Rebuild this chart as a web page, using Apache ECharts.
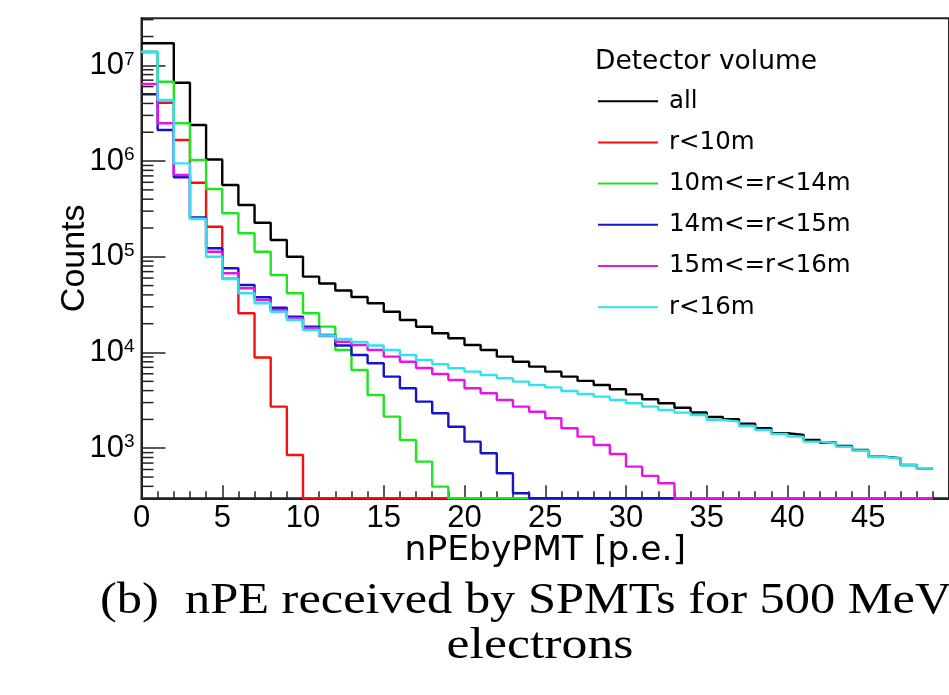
<!DOCTYPE html>
<html>
<head>
<meta charset="utf-8">
<script src="https://cdn.jsdelivr.net/npm/echarts@6/dist/echarts.min.js"></script>
<style>
  html, body { margin: 0; padding: 0; background: #fff; }
  #chart { width: 949px; height: 695px; }
</style>
</head>
<body>
<div id="chart"></div>
<script>
// Lower edges of the 1 p.e. wide bins
const binLow = [0, 1, 2, 3, 4, 5, 6, 7, 8, 9, 10, 11, 12, 13, 14, 15, 16, 17, 18, 19,
  20, 21, 22, 23, 24, 25, 26, 27, 28, 29, 30, 31, 32, 33, 34, 35, 36, 37, 38, 39,
  40, 41, 42, 43, 44, 45, 46, 47, 48];

// Bin contents (counts) per detector volume
const countsAll = [1.70e7, 1.70e7, 6.58e6, 2.38e6, 1.04e6, 5.62e5, 3.47e5, 2.27e5, 1.50e5, 1.00e5,
  6.20e4, 5.26e4, 4.45e4, 3.80e4, 3.27e4, 2.67e4, 2.19e4, 1.86e4, 1.59e4, 1.41e4,
  12000, 10630, 9050, 8020, 7120, 6310, 5600, 5050, 4580, 4130,
  3650, 3250, 2950, 2650, 2365, 2120, 2010, 1806, 1618, 1434,
  1377, 1221, 1150, 1057, 960, 817, 786, 669, 618];
const countsR10 = [1.38e7, 4.07e6, 1.659e6, 5.94e5, 2.06e5, 5.9e4, 2.57e4, 8880, 2720, 851,
  0, 0, 0, 0, 0, 0, 0, 0, 0, 0, 0, 0, 0, 0, 0, 0, 0, 0, 0, 0,
  0, 0, 0, 0, 0, 0, 0, 0, 0, 0, 0, 0, 0, 0, 0, 0, 0, 0, 0];
const countsR10to14 = [1.38e7, 6.74e6, 2.48e6, 1.026e6, 5.11e5, 2.85e5, 1.76e5, 1.13e5, 6.45e4, 4.16e4,
  2.57e4, 1.862e4, 1.063e4, 6570, 3600, 2140, 1221, 725, 397, 0,
  0, 0, 0, 0, 0, 0, 0, 0, 0, 0, 0, 0, 0, 0, 0, 0, 0, 0, 0, 0,
  0, 0, 0, 0, 0, 0, 0, 0, 0];
const countsR14to15 = [4.98e6, 2.11e6, 6.77e5, 2.57e5, 1.227e5, 7.58e4, 5.08e4, 3.78e4, 2.94e4, 2.37e4,
  1.862e4, 1.525e4, 1.185e4, 9430, 7720, 5600, 4230, 3070, 2320, 1680,
  1172, 887, 548, 339, 0, 0, 0, 0, 0, 0, 0, 0, 0, 0, 0, 0, 0, 0, 0, 0,
  0, 0, 0, 0, 0, 0, 0, 0, 0];
const countsR15to16 = [6.38e6, 2.48e6, 7.15e5, 2.51e5, 1.13e5, 6.72e4, 4.69e4, 3.54e4, 2.78e4, 2.28e4,
  1.805e4, 1.489e4, 1.298e4, 1.199e4, 1.063e4, 9050, 8020, 6900, 5970, 5170,
  4230, 3750, 3190, 2720, 2410, 2060, 1618, 1322, 1083, 872,
  642, 514, 431, 0, 0, 0, 0, 0, 0, 0, 0, 0, 0, 0, 0, 0, 0, 0, 0];
const countsR16 = [1.387e7, 4.34e6, 9.47e5, 2.48e5, 1.00e5, 5.86e4, 4.16e4, 3.27e4, 2.67e4, 2.19e4,
  1.72e4, 1.507e4, 1.385e4, 1.289e4, 1.185e4, 1.063e4, 9430, 8360, 7540, 6850,
  6310, 5830, 5380, 4960, 4580, 4320, 3970, 3690, 3460, 3190,
  2950, 2720, 2510, 2353, 2227, 1975, 1896, 1710, 1553, 1410,
  1322, 1172, 1136, 1039, 948, 811, 783, 665, 618];

const seriesNames = ['all', 'r<10m', '10m<=r<14m', '14m<=r<15m', '15m<=r<16m', 'r<16m'];
const seriesCounts = [countsAll, countsR10, countsR10to14, countsR14to15, countsR15to16, countsR16];
const seriesColors = ['#000000', '#f41010', '#1ee61e', '#1414c8', '#e614e6', '#30e2ec'];

// Axis ranges and tick labels
const X_MIN = 0, X_MAX = 50, X_STEP = 5;
const Y_MIN = 300, Y_MAX = 3.1e7;
const minorMultipliers = [2, 3, 4, 5, 6, 7, 8, 9];
const decades = [1e2, 1e3, 1e4, 1e5, 1e6, 1e7];

// Histogram outline: one point per bin edge, empty bins sit on the frame floor
function histPoints(counts) {
  const pts = binLow.map((x, i) => [x, Math.max(counts[i], Y_MIN)]);
  const last = pts[pts.length - 1];
  pts.push([last[0] + 1, last[1]]);
  return pts;
}

const minorTickValues = [];
decades.forEach(d => minorMultipliers.forEach(m => {
  const v = d * m;
  if (v > Y_MIN && v < Y_MAX) minorTickValues.push([X_MIN, v]);
}));

const chart = echarts.init(document.getElementById('chart'), null, { renderer: 'canvas' });

const sans = "'Liberation Sans', Arial, sans-serif";
const wide = "'DejaVu Sans', sans-serif";
const serifFont = "45px 'Liberation Serif', 'Times New Roman', serif";
const axisColor = '#222';

const lineSeries = seriesNames.map((name, k) => ({
  name: name,
  type: 'line',
  step: 'end',
  data: histPoints(seriesCounts[k]),
  showSymbol: false,
  symbol: 'none',
  clip: false,
  animation: false,
  lineStyle: { color: seriesColors[k], width: 2.4 },
  itemStyle: { color: seriesColors[k] },
  z: 3 + k
}));

const minorTickSeries = {
  name: 'yMinorTicks',
  type: 'custom',
  silent: true,
  clip: false,
  animation: false,
  z: 20,
  data: minorTickValues,
  renderItem: function (params, api) {
    const p = api.coord([api.value(0), api.value(1)]);
    return {
      type: 'line',
      shape: { x1: p[0], y1: p[1], x2: p[0] + 12, y2: p[1] },
      style: { stroke: axisColor, lineWidth: 1.5 }
    };
  }
};

chart.setOption({
  animation: false,
  backgroundColor: '#ffffff',
  grid: {
    left: 141.5, top: 18.3, bottom: 196.7, right: -17.5,
    show: true, borderColor: axisColor, borderWidth: 2, containLabel: false
  },
  xAxis: {
    type: 'value', min: X_MIN, max: X_MAX, interval: X_STEP,
    name: 'nPEbyPMT [p.e.]', nameLocation: 'middle', nameGap: 36, nameMoveOverlap: false,
    nameTextStyle: { fontFamily: wide, fontSize: 34.5, lineHeight: 34, color: '#000' },
    axisLine: { show: true, lineStyle: { color: axisColor, width: 2 } },
    axisTick: { show: true, inside: true, length: 13, lineStyle: { color: axisColor, width: 1.5 } },
    minorTick: { show: true, splitNumber: 5, length: 7, lineStyle: { color: axisColor, width: 1.5 } },
    splitLine: { show: false },
    axisLabel: {
      margin: 5, fontFamily: sans, fontSize: 31, lineHeight: 31, color: '#000',
      showMaxLabel: false
    }
  },
  yAxis: {
    type: 'log', logBase: 10, min: Y_MIN, max: Y_MAX, splitNumber: 5,
    name: 'Counts', nameLocation: 'middle', nameRotate: 90, nameGap: 50, nameMoveOverlap: false,
    nameTextStyle: { fontFamily: sans, fontSize: 34, lineHeight: 34, color: '#000' },
    axisLine: { show: true, lineStyle: { color: axisColor, width: 2 } },
    axisTick: { show: true, inside: true, length: 24, lineStyle: { color: axisColor, width: 1.5 } },
    splitLine: { show: false },
    axisLabel: {
      margin: 7,
      showMinLabel: false, showMaxLabel: false,
      formatter: function (v) {
        const e = Math.round(Math.log10(v));
        return '{b|10}{s|' + e + '}';
      },
      rich: {
        b: { fontFamily: sans, fontSize: 31, lineHeight: 31, color: '#000' },
        s: { fontFamily: sans, fontSize: 19, lineHeight: 19, color: '#000',
             verticalAlign: 'top', padding: [0, 0, 20, 0] }
      }
    }
  },
  legend: {
    data: seriesNames,
    orient: 'vertical',
    left: 598, top: 88.7, padding: 0,
    itemWidth: 60, itemHeight: 2, itemGap: 16.2,
    icon: 'rect',
    selectedMode: false,
    textStyle: { fontFamily: wide, fontSize: 24.5, lineHeight: 24, color: '#000', padding: [0, 0, 0, 6] }
  },
  graphic: [
    { type: 'text', x: 595, y: 61.7, silent: true,
      style: { text: 'Detector volume', font: "26.5px 'DejaVu Sans', sans-serif", fill: '#000',
               textAlign: 'left', textVerticalAlign: 'middle' } },
    { type: 'text', x: 100, y: 601, scaleX: 1.12, silent: true,
      style: { text: '(b)', font: serifFont, fill: '#000',
               textAlign: 'left', textVerticalAlign: 'middle' } },
    { type: 'text', x: 185, y: 601, scaleX: 1.12, silent: true,
      style: { text: 'nPE received by SPMTs for 500 MeV', font: serifFont, fill: '#000',
               textAlign: 'left', textVerticalAlign: 'middle' } },
    { type: 'text', x: 540, y: 646, scaleX: 1.15, silent: true,
      style: { text: 'electrons', font: serifFont, fill: '#000',
               textAlign: 'center', textVerticalAlign: 'middle' } }
  ],
  series: lineSeries.concat([minorTickSeries])
});
</script>
</body>
</html>
